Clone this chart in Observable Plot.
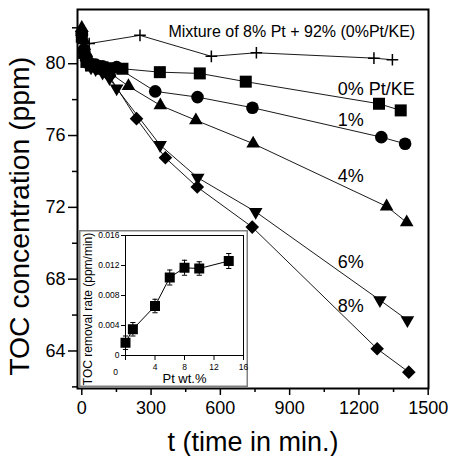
<!DOCTYPE html>
<html><head><meta charset="utf-8">
<script src="https://cdn.jsdelivr.net/npm/d3@7"></script>
<script src="https://cdn.jsdelivr.net/npm/@observablehq/plot@0.6"></script>
<style>
html,body{margin:0;padding:0;background:#fff;}
#chart{position:relative;width:450px;height:456px;}
#chart svg{position:absolute;}
</style></head><body><div id="chart"></div>
<script>
// ---- main chart data: TOC concentration (ppm) vs time (min) ----
const seriesNames = ["0% Pt/KE", "1%", "4%", "6%", "8%", "Mixture of 8% Pt + 92% (0%Pt/KE)"];
const t0 = [0, 10, 20, 40, 60, 90, 120, 176, 338, 511, 710, 1287, 1381];
const toc0 = [81.5, 80.6, 80.1, 79.9, 79.85, 79.8, 79.75, 79.72, 79.53, 79.46, 79.0, 77.77, 77.4];
const t1 = [0, 10, 20, 40, 60, 90, 151, 318, 501, 739, 1297, 1400];
const toc1 = [81.7, 80.8, 80.3, 80.0, 79.95, 79.85, 79.81, 78.46, 78.14, 77.55, 75.91, 75.54];
const t4 = [0, 10, 20, 40, 60, 90, 120, 202, 340, 494, 742, 1320, 1407];
const toc4 = [82.0, 81.3, 80.6, 80.0, 79.8, 79.6, 79.5, 78.75, 77.68, 76.85, 75.55, 72.05, 71.16];
const t6 = [0, 10, 20, 40, 60, 90, 120, 151, 339, 502, 753, 1291, 1410];
const toc6 = [81.4, 80.5, 80.0, 79.8, 79.7, 79.5, 79.2, 78.62, 75.47, 73.65, 71.75, 66.83, 65.72];
const t8 = [0, 10, 20, 40, 60, 90, 120, 237, 362, 500, 738, 1279, 1416];
const toc8 = [81.8, 80.8, 80.2, 79.9, 79.8, 79.6, 79.3, 76.94, 74.76, 73.13, 70.9, 64.12, 62.82];
const tMix = [0, 32, 252, 561, 756, 1265, 1345];
const tocMix = [81.6, 81.12, 81.58, 80.41, 80.61, 80.31, 80.22];

const xTicks = [0, 300, 600, 900, 1200, 1500];
const xMinor = [150, 450, 750, 1050, 1350];
const yTicks = [64, 68, 72, 76, 80];
const yMinor = [62, 66, 70, 74, 78, 82];
const xLabel = "t (time in min.)";
const yLabel = "TOC concentration (ppm)";

// annotation label anchors (data units)
const annoText = ["0% Pt/KE", "1%", "4%", "6%", "8%"];
const annoT = [1108, 1108, 1108, 1108, 1108];
const annoV = [78.26, 76.51, 73.40, 68.60, 66.16];
const mixAnnoT = 375, mixAnnoV = 81.49;

// ---- inset data: TOC removal rate vs Pt wt.% ----
const ptWt = [0, 1, 4, 6, 8, 10, 14];
const rate = [0.0017, 0.0035, 0.0066, 0.0104, 0.0117, 0.0116, 0.0126];
const rateErr = [0.0009, 0.0009, 0.0009, 0.001, 0.001, 0.0009, 0.001];
const insetXTicks = [0, 4, 8, 12, 16];
const insetYTicks = [0, 0.004, 0.008, 0.012, 0.016];
const insetXLabel = "Pt wt.%";
const insetYLabel = "TOC removal rate (ppm/min)";

// ---- build rows ----
const tArr = [t0, t1, t4, t6, t8, tMix];
const vArr = [toc0, toc1, toc4, toc6, toc8, tocMix];
const rows = [];
seriesNames.forEach((s, k) => tArr[k].forEach((t, i) => rows.push({s, t, v: vArr[k][i]})));

// ---- symbols ----
const R = s => Math.sqrt(s / Math.PI);
const sym = {
  square: {draw(c, s) { const r = R(s); c.rect(-r, -r, 2 * r, 2 * r); }},
  up: {draw(c, s) { const r = R(s), h = r * Math.sqrt(3); c.moveTo(0, -2 * h / 3); c.lineTo(r, h / 3); c.lineTo(-r, h / 3); c.closePath(); }},
  down: {draw(c, s) { const r = R(s), h = r * Math.sqrt(3); c.moveTo(0, 2 * h / 3); c.lineTo(r, -h / 3); c.lineTo(-r, -h / 3); c.closePath(); }},
  diamond: {draw(c, s) { const r = R(s); c.moveTo(0, -r); c.lineTo(r, 0); c.lineTo(0, r); c.lineTo(-r, 0); c.closePath(); }},
  plus: {draw(c, s) { const r = R(s); c.moveTo(-r, 0); c.lineTo(r, 0); c.moveTo(0, -r); c.lineTo(0, r); }},
  cap: {draw(c, s) { const r = R(s); c.moveTo(-r, 0); c.lineTo(r, 0); }}
};
const font = '"Liberation Sans", Arial, Helvetica, sans-serif';
const of = name => rows.filter(d => d.s === name);

const main = Plot.plot({
  width: 450, height: 456,
  marginLeft: 77, marginRight: 22, marginTop: 9, marginBottom: 68,
  style: {fontFamily: font, color: "black", background: "white", overflow: "visible"},
  x: {domain: [-18.6, 1501.3], label: null},
  y: {domain: [61.91, 83.02], label: null},
  marks: [
    Plot.axisX({ticks: xTicks, tickFormat: d => String(d), tickSize: 7, tickPadding: 6, fontSize: 18, strokeWidth: 1.5, label: null}),
    Plot.axisX({ticks: xMinor, tickSize: 4, tickFormat: () => "", strokeWidth: 1.5, label: null}),
    Plot.axisY({ticks: yTicks, tickFormat: d => String(d), tickSize: 9, tickPadding: 3, fontSize: 18, strokeWidth: 1.5, label: null}),
    Plot.axisY({ticks: yMinor, tickSize: 5, tickFormat: () => "", strokeWidth: 1.5, label: null}),
    Plot.line(rows, {x: "t", y: "v", z: "s", stroke: "black", strokeWidth: 0.9}),
    Plot.dot(of(seriesNames[5]), {x: "t", y: "v", symbol: sym.plus, r: 5.8, stroke: "black", fill: "none", strokeWidth: 1.5}),
    Plot.dot(of(seriesNames[0]), {x: "t", y: "v", symbol: sym.square, r: 6, fill: "black", stroke: "none"}),
    Plot.dot(of(seriesNames[1]), {x: "t", y: "v", symbol: "circle", r: 6.3, fill: "black", stroke: "none"}),
    Plot.dot(of(seriesNames[2]), {x: "t", y: "v", symbol: sym.up, r: 6.8, fill: "black", stroke: "none"}),
    Plot.dot(of(seriesNames[3]), {x: "t", y: "v", symbol: sym.down, r: 6.8, fill: "black", stroke: "none"}),
    Plot.dot(of(seriesNames[4]), {x: "t", y: "v", symbol: sym.diamond, r: 6.8, fill: "black", stroke: "none"}),
    Plot.text(annoText, {x: (d, i) => annoT[i], y: (d, i) => annoV[i], text: d => d, textAnchor: "start", lineAnchor: "bottom", fontSize: 18}),
    Plot.text([seriesNames[5]], {x: () => mixAnnoT, y: () => mixAnnoV, text: d => d, textAnchor: "start", lineAnchor: "bottom", fontSize: 16}),
    Plot.text([xLabel], {frameAnchor: "bottom", dy: 62, textAnchor: "middle", lineAnchor: "bottom", fontSize: 27}),
    Plot.text([yLabel], {frameAnchor: "left", rotate: -90, dx: -48.5, dy: 17.3, textAnchor: "middle", lineAnchor: "bottom", fontSize: 28.3}),
    Plot.frame({stroke: "black", strokeWidth: 2})
  ]
});
main.style.left = "0px"; main.style.top = "0px";

const idx = d3.range(ptWt.length);
const inset = Plot.plot({
  width: 169, height: 157,
  marginLeft: 46, marginRight: 5, marginTop: 5, marginBottom: 32,
  style: {fontFamily: font, color: "black", background: "white", overflow: "visible"},
  x: {domain: [0, 16], label: null},
  y: {domain: [0, 0.016], label: null},
  marks: [
    Plot.axisX({ticks: insetXTicks, tickFormat: d => d === 0 ? "" : String(d), tickSize: 5, tickPadding: 3, fontSize: 8.5, strokeWidth: 1, label: null}),
    Plot.axisY({ticks: insetYTicks, tickFormat: d => d === 0 ? "0" : d.toFixed(3), tickSize: 4, tickPadding: 2, fontSize: 8.5, strokeWidth: 1, label: null}),
    Plot.frame({stroke: "black", strokeWidth: 1}),
    Plot.ruleX(idx, {x: i => ptWt[i], y1: i => rate[i] - rateErr[i], y2: i => rate[i] + rateErr[i], stroke: "black", strokeWidth: 1}),
    Plot.dot(idx, {x: i => ptWt[i], y: i => rate[i] + rateErr[i], symbol: sym.cap, r: 2.6, stroke: "black", fill: "none", strokeWidth: 1}),
    Plot.dot(idx, {x: i => ptWt[i], y: i => rate[i] - rateErr[i], symbol: sym.cap, r: 2.6, stroke: "black", fill: "none", strokeWidth: 1}),
    Plot.line(idx, {x: i => ptWt[i], y: i => rate[i], stroke: "black", strokeWidth: 1}),
    Plot.dot(idx, {x: i => ptWt[i], y: i => rate[i], symbol: sym.square, r: 5, fill: "black", stroke: "none"}),
    Plot.text([insetXLabel], {frameAnchor: "bottom", dy: 27, textAnchor: "middle", lineAnchor: "bottom", fontSize: 13}),
    Plot.text(["0"], {frameAnchor: "bottom-left", dx: -10, dy: 19, textAnchor: "middle", lineAnchor: "bottom", fontSize: 8.5}),
    Plot.text([insetYLabel], {frameAnchor: "left", rotate: -90, dx: -33.5, dy: 13.5, textAnchor: "middle", lineAnchor: "bottom", fontSize: 12})
  ]
});
d3.select(inset).insert("rect", ":first-child")
  .attr("x", 0.75).attr("y", 0.75).attr("width", 167.5).attr("height", 155.5)
  .attr("fill", "white").attr("stroke", "#808080").attr("stroke-width", 1.5);
inset.style.left = "79px"; inset.style.top = "230px";

const chart = document.getElementById("chart");
chart.appendChild(main);
chart.appendChild(inset);
</script>
</body></html>
